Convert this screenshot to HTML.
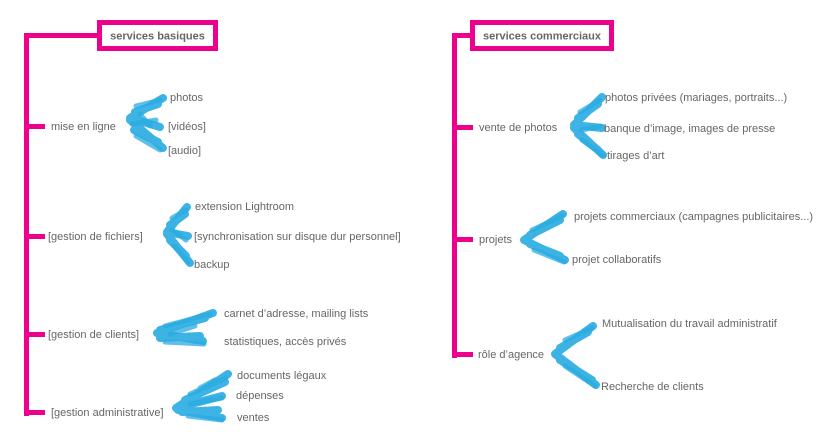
<!DOCTYPE html>
<html><head><meta charset="utf-8"><style>
body{margin:0;background:#fff;width:827px;height:444px;overflow:hidden;font-family:"Liberation Sans",sans-serif}
svg{display:block}
text{font-family:"Liberation Sans",sans-serif;font-size:11px;fill:#666}
.b{font-weight:bold}
.br{fill:none;stroke:#29abe2;stroke-width:8;stroke-linecap:round;stroke-linejoin:round;opacity:.9}
.br2{fill:none;stroke:#29abe2;stroke-width:5;stroke-linecap:round;stroke-linejoin:round;opacity:.75}
</style></head><body>
<svg width="827" height="444" viewBox="0 0 827 444">
<g fill="#ec008c">
<rect x="24" y="33" width="5" height="383"/>
<rect x="24" y="33" width="75" height="5"/>
<rect x="29" y="124" width="16" height="5"/>
<rect x="29" y="234" width="16" height="5"/>
<rect x="29" y="332" width="16" height="5"/>
<rect x="29" y="410" width="16" height="5"/>
<rect x="452" y="33" width="5" height="325"/>
<rect x="452" y="33" width="20" height="5"/>
<rect x="457" y="125" width="16" height="5"/>
<rect x="457" y="237" width="16" height="5"/>
<rect x="457" y="352" width="16" height="5"/>
</g>
<rect x="99.5" y="22.5" width="116" height="26" fill="#fff" stroke="#ec008c" stroke-width="5"/>
<rect x="472.5" y="22.5" width="139" height="26" fill="#fff" stroke="#ec008c" stroke-width="5"/>
<text class="b" x="157.5" y="39.5" text-anchor="middle">services basiques</text>
<text class="b" x="542" y="39.5" text-anchor="middle">services commerciaux</text>

<g class="br">
<path d="M163 98 L130 118 L160 127 M130 120 L163 148 M135 112 L158 104 M134 130 L158 142"/>
<path d="M187 207 L167 232 L188 236 M167 234 L190 263 M170 225 L185 214 M170 240 L186 256"/>
<path d="M213 313 L157 333 L203 341 M160 330 L205 318 M160 338 L200 336"/>
<path d="M228 374 L176 408 L222 396 M178 410 L222 418 M185 400 L225 382 M182 412 L218 410"/>
<path d="M602 97 L574 125 L602 128 M574 128 L603 155 M578 118 L598 104 M578 134 L598 150"/>
<path d="M563 214 L524 240 L565 260 M530 235 L560 220 M530 244 L560 256"/>
<path d="M593 326 L555 354 L596 385 M560 348 L588 332 M560 360 L592 380"/>
</g>
<g class="br2">
<path d="M136 106 L160 100 M132 124 L156 120 M136 136 L160 150 M140 114 L150 126"/>
<path d="M172 218 L186 210 M172 230 L186 240 M174 246 L188 262"/>
<path d="M165 326 L210 314 M165 342 L204 344 M170 334 L195 326"/>
<path d="M190 394 L226 378 M190 404 L222 398 M188 416 L222 420 M200 388 L215 380"/>
<path d="M580 112 L600 100 M582 130 L600 126 M582 140 L604 156"/>
<path d="M532 230 L562 216 M534 250 L564 262"/>
<path d="M565 340 L592 328 M565 366 L595 386"/>
</g>

<text x="51" y="130">mise en ligne</text>
<text x="48" y="240">[gestion de fichiers]</text>
<text x="48" y="338">[gestion de clients]</text>
<text x="51" y="416">[gestion administrative]</text>
<text x="170" y="101">photos</text>
<text x="168" y="130">[vidéos]</text>
<text x="168" y="154">[audio]</text>
<text x="195" y="210">extension Lightroom</text>
<text x="194" y="240">[synchronisation sur disque dur personnel]</text>
<text x="194" y="268">backup</text>
<text x="224" y="317">carnet d’adresse, mailing lists</text>
<text x="224" y="345">statistiques, accès privés</text>
<text x="237" y="379">documents légaux</text>
<text x="236" y="399">dépenses</text>
<text x="237" y="421">ventes</text>

<text x="479" y="131">vente de photos</text>
<text x="479" y="243">projets</text>
<text x="478" y="358">rôle d’agence</text>
<text x="605" y="101">photos privées (mariages, portraits...)</text>
<text x="604" y="132">banque d’image, images de presse</text>
<text x="607" y="159">tirages d’art</text>
<text x="574" y="220">projets commerciaux (campagnes publicitaires...)</text>
<text x="572" y="263">projet collaboratifs</text>
<text x="602" y="327">Mutualisation du travail administratif</text>
<text x="601" y="390">Recherche de clients</text>
</svg>
</body></html>
